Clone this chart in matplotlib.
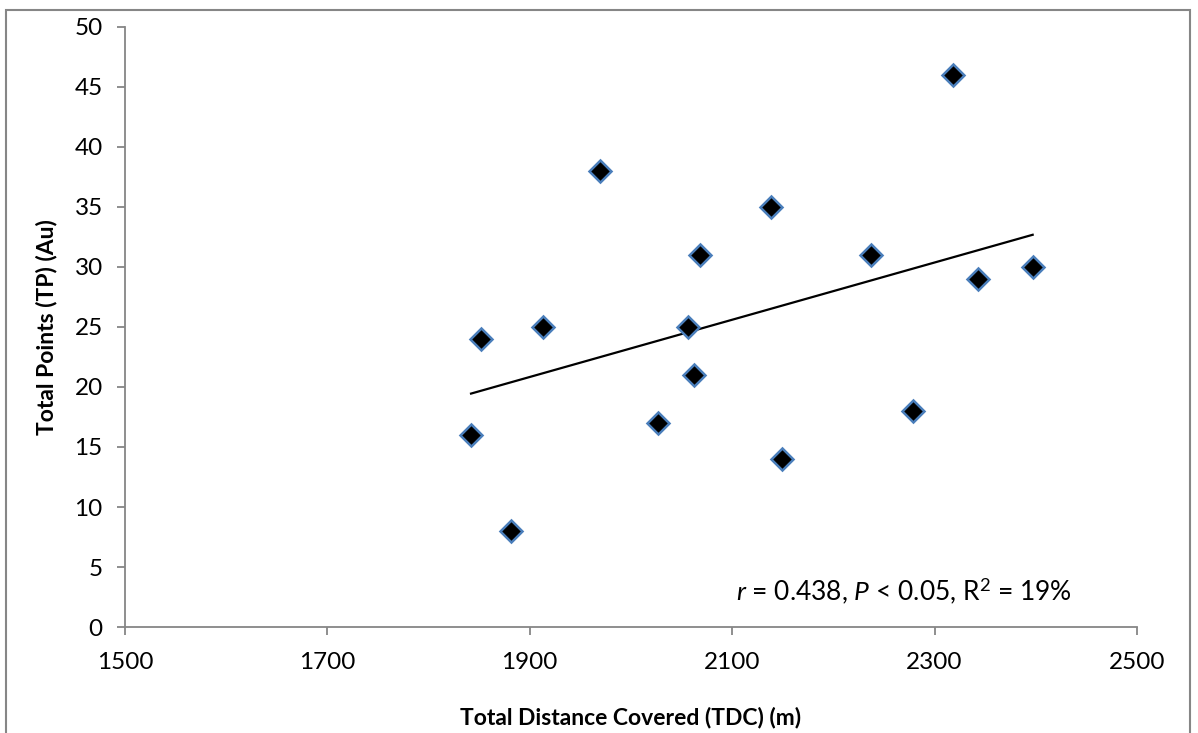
import numpy as np
import matplotlib
matplotlib.use("Agg")
import matplotlib.pyplot as plt
from matplotlib.patches import Rectangle

plt.rcParams["font.family"] = ["Lato", "DejaVu Sans"]
plt.rcParams["mathtext.fontset"] = "custom"
plt.rcParams["mathtext.rm"] = "Lato"
plt.rcParams["mathtext.it"] = "Lato:italic"

# Data
tdc = [1842, 1852, 1881, 1913, 1969, 2027, 2056, 2062, 2068,
       2138, 2149, 2237, 2279, 2318, 2343, 2397]
tp = [16, 24, 8, 25, 38, 17, 25, 21, 31, 35, 14, 31, 18, 46, 29, 30]

x = np.array(tdc)
y = np.array(tp)

# Linear trendline
slope, intercept = np.polyfit(x, y, 1)
xs = np.array([x.min(), x.max()])

fig = plt.figure(figsize=(11.98, 7.33), dpi=100)
ax = fig.add_axes([0.1043, 0.1446, 0.8447, 0.8186])

ax.plot(xs, slope * xs + intercept, color="black", linewidth=1.6, zorder=2)
ax.plot(x, y, linestyle="none", marker="D", markersize=11,
        markerfacecolor="black", markeredgecolor="#4a7ebb",
        markeredgewidth=1.8, zorder=3)

ax.set_xlim(1500, 2500)
ax.set_ylim(0, 50)
ax.set_xticks(range(1500, 2501, 200))
ax.set_yticks(range(0, 51, 5))

for side in ["top", "right"]:
    ax.spines[side].set_visible(False)
for side in ["left", "bottom"]:
    ax.spines[side].set_color("#868686")
    ax.spines[side].set_linewidth(1.3)
ax.tick_params(axis="both", colors="#868686", labelcolor="black",
               labelsize=17.5, length=6, width=1.3, direction="out")
ax.tick_params(axis="x", pad=12)
ax.tick_params(axis="y", pad=10)

ax.set_xlabel("Total Distance Covered (TDC) (m)", fontsize=16.5,
              fontweight="bold", labelpad=24)
ax.set_ylabel("Total Points (TP) (Au)", fontsize=16.5,
              fontweight="bold", labelpad=12)

ax.text(2270, 2.2, r"$\it{r}$ = 0.438, $\it{P}$ < 0.05, R$^2$ = 19%",
        fontsize=19, ha="center", va="baseline")

# Chart-area border
fig.patches.append(Rectangle((6 / 1198, -0.05), 1184 / 1198, 1.05 - 10 / 733,
                             transform=fig.transFigure, fill=False,
                             edgecolor="#868686", linewidth=1.5))

fig.savefig("out.png", dpi=100)
